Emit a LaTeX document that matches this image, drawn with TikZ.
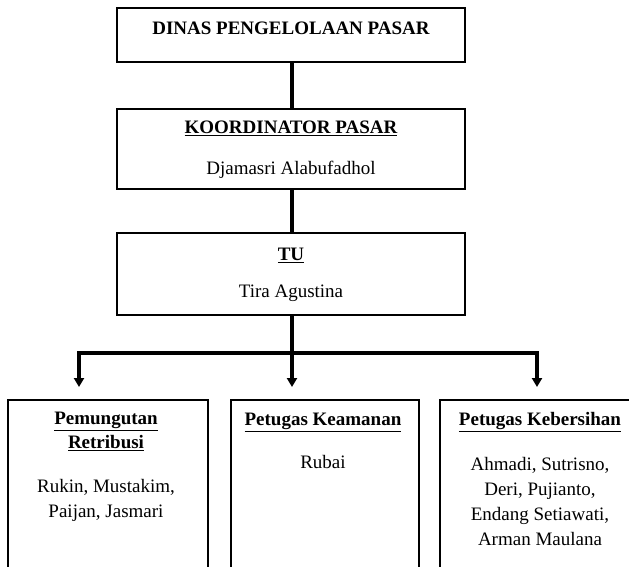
\documentclass[tikz,border=0pt]{standalone}
\usepackage{fontspec}
\setmainfont{Liberation Serif}
\usetikzlibrary{arrows.meta}
\usetikzlibrary{calc}
\usetikzlibrary{positioning}

\begin{document}
\begin{tikzpicture}[x=1pt,y=-1pt,
    every node/.style={font=\fontsize{19}{25}\selectfont,inner sep=0pt},
    box/.style={draw,line width=1.4pt,rectangle},
    head/.style={font=\fontsize{19}{24}\selectfont\bfseries,align=center},
    names/.style={align=center},
    conn/.style={line width=3.4pt},
    arr/.style={line width=3.4pt,-{Triangle[length=9pt,width=10pt]}}]
          \useasboundingbox (0,0) rectangle (629,567);
          \node[box,minimum width=348pt,minimum height=54pt] (dinas) at (291,35) {};
          \node[box,minimum width=348pt,minimum height=80pt] (koord) at (291,149) {};
          \node[box,minimum width=348pt,minimum height=82pt] (tu) at (291,274) {};
          \node[box,minimum width=200pt,minimum height=180pt] (retribusi) at (108,490) {};
          \node[box,minimum width=188pt,minimum height=180pt] (keamanan) at (325,490) {};
          \node[box,minimum width=200pt,minimum height=180pt] (kebersihan) at (540,490) {};
          \node[head] (dinasT) at (291,28) {DINAS PENGELOLAAN PASAR};
          \node[head] (koordT) at (291,128) {\underline{KOORDINATOR PASAR}};
          \node (koordN) at (291,170) {Djamasri Alabufadhol};
          \node[head] (tuT) at (291,255) {\underline{TU}};
          \node (tuN) at (291,293) {Tira Agustina};
          \node[head] (retribusiT) at (106,431) {\underline{Pemungutan}\\\underline{Retribusi}};
          \node[names] (retribusiN) at (106,500) {Rukin, Mustakim,\\Paijan, Jasmari};
          \node[head] (keamananT) at (323,422) {\underline{Petugas Keamanan}};
          \node (keamananN) at (323,462) {Rubai};
          \node[head] (kebersihanT) at (540,422) {\underline{Petugas Kebersihan}};
          \node[names] (kebersihanN) at (540,501) {Ahmadi, Sutrisno,\\Deri, Pujianto,\\Endang Setiawati,\\Arman Maulana};
          \coordinate (split) at (292,353);
          \coordinate (tipA) at (79,387);
          \coordinate (tipB) at (292,387);
          \coordinate (tipC) at (537,387);
          \draw[conn] (dinas.south -| split) -- (koord.north -| split);
          \draw[conn] (koord.south -| split) -- (tu.north -| split);
          \draw[conn] (tu.south -| split) -- (split);
          \draw[arr] (split) -- (tipB);
          \draw[arr] (split) -- (tipA |- split) -- (tipA);
          \draw[arr] (split) -- (tipC |- split) -- (tipC);
        \end{tikzpicture}
\end{document}
